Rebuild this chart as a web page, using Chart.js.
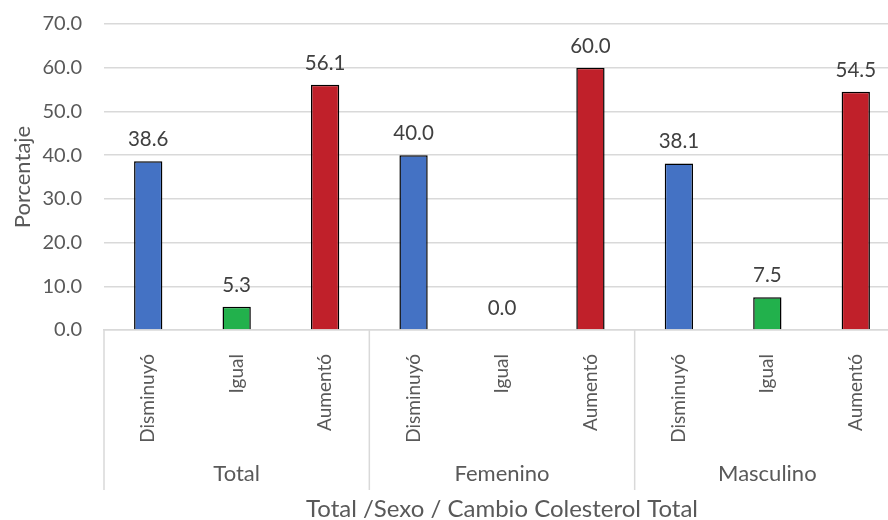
<!DOCTYPE html>
<html>
<head>
<meta charset="utf-8">
<script src="https://cdn.jsdelivr.net/npm/chart.js@4/dist/chart.umd.min.js"></script>
<style>
  html, body { margin: 0; padding: 0; background: #fff; overflow: hidden; }
  #wrap { position: relative; width: 900px; height: 520px; }
</style>
</head>
<body>
<div id="wrap"><canvas id="grafico"></canvas></div>
<script>
// datos
var grupos = ["Total", "Femenino", "Masculino"];
var cambios = ["Disminuyó", "Igual", "Aumentó"];
var porcentajes = [38.6, 5.3, 56.1, 40.0, 0.0, 60.0, 38.1, 7.5, 54.5];
var yTicks = [0, 10, 20, 30, 40, 50, 60, 70];
var coloresCambio = ["#4472C4", "#22B14C", "#C0202A"];

var fuente = "Lato, 'Open Sans', sans-serif";
var gris = "#595959";
var lineaGris = "#d9d9d9";

var etiquetas = [];
var colores = [];
for (var g = 0; g < grupos.length; g++) {
  for (var c = 0; c < cambios.length; c++) {
    etiquetas.push(cambios[c]);
    colores.push(coloresCambio[c]);
  }
}

// valores encima de las barras
var pluginValores = {
  id: "valores",
  afterDatasetsDraw: function(chart) {
    var ctx = chart.ctx;
    var meta = chart.getDatasetMeta(0);
    ctx.save();
    ctx.font = "20.5px " + fuente;
    ctx.fillStyle = "#404040";
    ctx.textAlign = "center";
    ctx.textBaseline = "alphabetic";
    meta.data.forEach(function(bar, i) {
      ctx.fillText(porcentajes[i].toFixed(1), bar.x, bar.y - 15);
    });
    ctx.restore();
  }
};

// grupos del eje x y separadores
var pluginGrupos = {
  id: "grupos",
  afterDraw: function(chart) {
    var ctx = chart.ctx;
    var x = chart.scales.x;
    var area = chart.chartArea;
    var paso = x.getPixelForValue(1) - x.getPixelForValue(0);
    ctx.save();
    ctx.strokeStyle = lineaGris;
    ctx.lineWidth = 1.5;
    for (var g = 0; g <= grupos.length; g++) {
      var px = x.getPixelForValue(g * cambios.length) - paso / 2;
      ctx.beginPath();
      ctx.moveTo(px, area.bottom);
      ctx.lineTo(px, 490);
      ctx.stroke();
    }
    ctx.font = "22px " + fuente;
    ctx.fillStyle = gris;
    ctx.textAlign = "center";
    ctx.textBaseline = "middle";
    for (var g2 = 0; g2 < grupos.length; g2++) {
      var centro = x.getPixelForValue(g2 * cambios.length + 1);
      ctx.fillText(grupos[g2], centro, 474);
    }
    ctx.restore();
  }
};

var config = {
  type: "bar",
  data: {
    labels: etiquetas,
    datasets: [{
      label: "Porcentaje",
      data: porcentajes,
      backgroundColor: colores,
      borderColor: "#000000",
      borderWidth: 1.5,
      barPercentage: 0.32,
      categoryPercentage: 1.0
    }]
  },
  options: {
    responsive: true,
    maintainAspectRatio: false,
    animation: false,
    layout: { padding: { top: 24, right: 0, bottom: 0, left: 0 } },
    plugins: {
      legend: { display: false },
      tooltip: { enabled: false }
    },
    scales: {
      x: {
        grid: { display: false },
        border: { color: lineaGris, width: 1.5 },
        ticks: {
          color: gris,
          font: { family: fuente, size: 19 },
          minRotation: 90,
          maxRotation: 90,
          padding: 16,
          autoSkip: false
        },
        title: {
          display: true,
          text: "Total /Sexo / Cambio Colesterol Total",
          color: gris,
          font: { family: fuente, size: 24 },
          padding: { top: 0, bottom: -4 }
        },
        afterFit: function(s) { s.height = 190; }
      },
      y: {
        min: 0,
        max: 70,
        grid: {
          color: lineaGris,
          lineWidth: 1.5,
          drawTicks: true,
          tickLength: 18,
          tickColor: "rgba(0,0,0,0)"
        },
        border: { display: false },
        afterBuildTicks: function(s) {
          s.ticks = yTicks.map(function(v) { return { value: v }; });
        },
        ticks: {
          color: gris,
          font: { family: fuente, size: 20 },
          padding: 4,
          callback: function(v) { return Number(v).toFixed(1); }
        },
        title: {
          display: true,
          text: "Porcentaje",
          color: gris,
          font: { family: fuente, size: 22 },
          padding: { top: 10, bottom: 0 }
        },
        afterFit: function(s) { s.width = 104; }
      }
    }
  },
  plugins: [pluginValores, pluginGrupos]
};

new Chart(document.getElementById("grafico").getContext("2d"), config);
</script>
</body>
</html>
